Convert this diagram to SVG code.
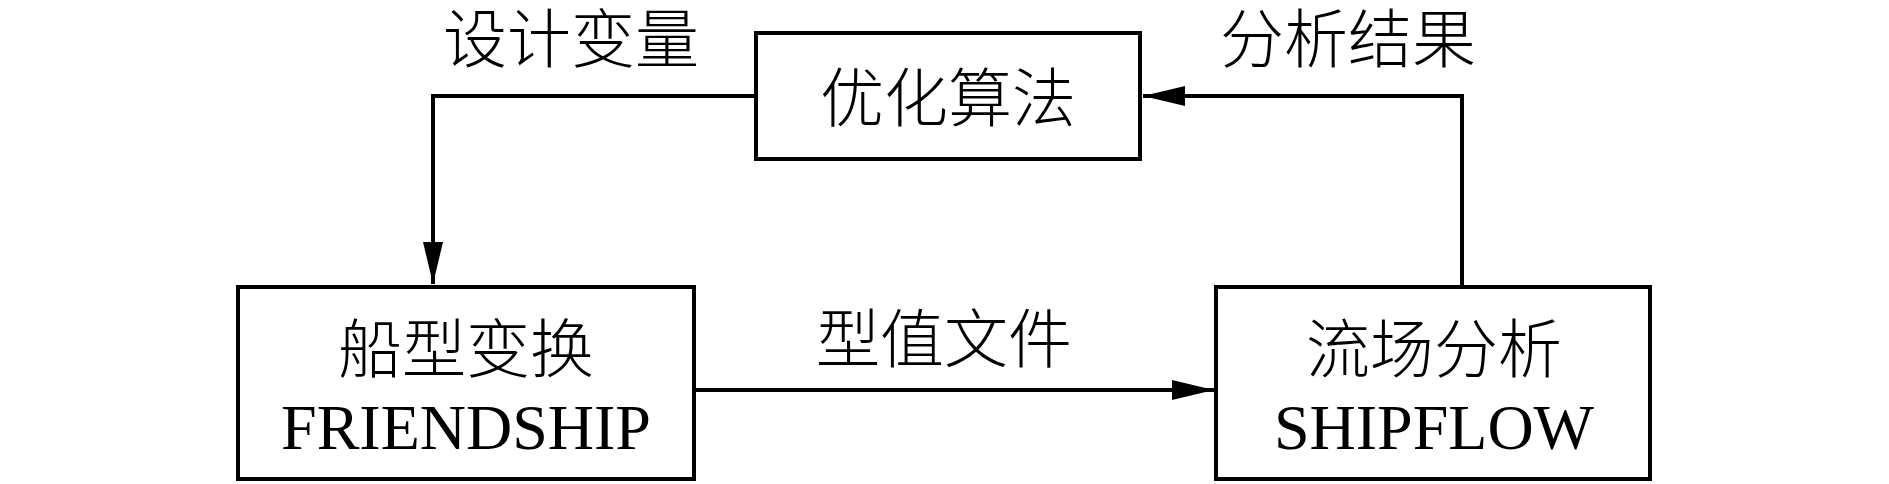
<svg xmlns="http://www.w3.org/2000/svg" width="1889" height="484" viewBox="0 0 1889 484">
<style>
.box{fill:#fff;stroke:#000;stroke-width:4}
.wire{fill:none;stroke:#000;stroke-width:4}
.zh{font-family:"Noto Sans CJK SC","Noto Sans CJK JP",sans-serif;font-size:64px;fill:#000;text-anchor:middle;font-weight:300}
.en{font-family:"Liberation Serif","Times New Roman",serif;font-size:64px;fill:#000;text-anchor:middle}
</style>
<defs>
<marker id="ah" viewBox="0 0 42 20" refX="42" refY="10" markerWidth="42" markerHeight="20" markerUnits="userSpaceOnUse" orient="auto">
<path d="M0,0 L42,10 L0,20 Z" fill="#000"/>
</marker>
</defs>
<g id="connectors">
<polyline class="wire" points="754,96 433,96 433,284" marker-end="url(#ah)"/>
<line class="wire" x1="696" y1="390" x2="1214" y2="390" marker-end="url(#ah)"/>
<polyline class="wire" points="1462,285 1462,96 1143,96" marker-end="url(#ah)"/>
</g>
<g id="label-design">
<text class="zh" x="571" y="62">设计变量</text>
</g>
<g id="label-result">
<text class="zh" x="1348" y="62">分析结果</text>
</g>
<g id="label-file">
<text class="zh" x="944" y="362">型值文件</text>
</g>
<g id="node-opt">
<rect class="box" x="756" y="33" width="384" height="126"/>
<text class="zh" x="948" y="121">优化算法</text>
</g>
<g id="node-friendship">
<rect class="box" x="238" y="287" width="456" height="192"/>
<text class="zh" x="466" y="372">船型变换</text>
<text class="en" x="466" y="449">FRIENDSHIP</text>
</g>
<g id="node-shipflow">
<rect class="box" x="1216" y="287" width="434" height="192"/>
<text class="zh" x="1434" y="372">流场分析</text>
<text class="en" x="1434" y="449">SHIPFLOW</text>
</g>
</svg>
